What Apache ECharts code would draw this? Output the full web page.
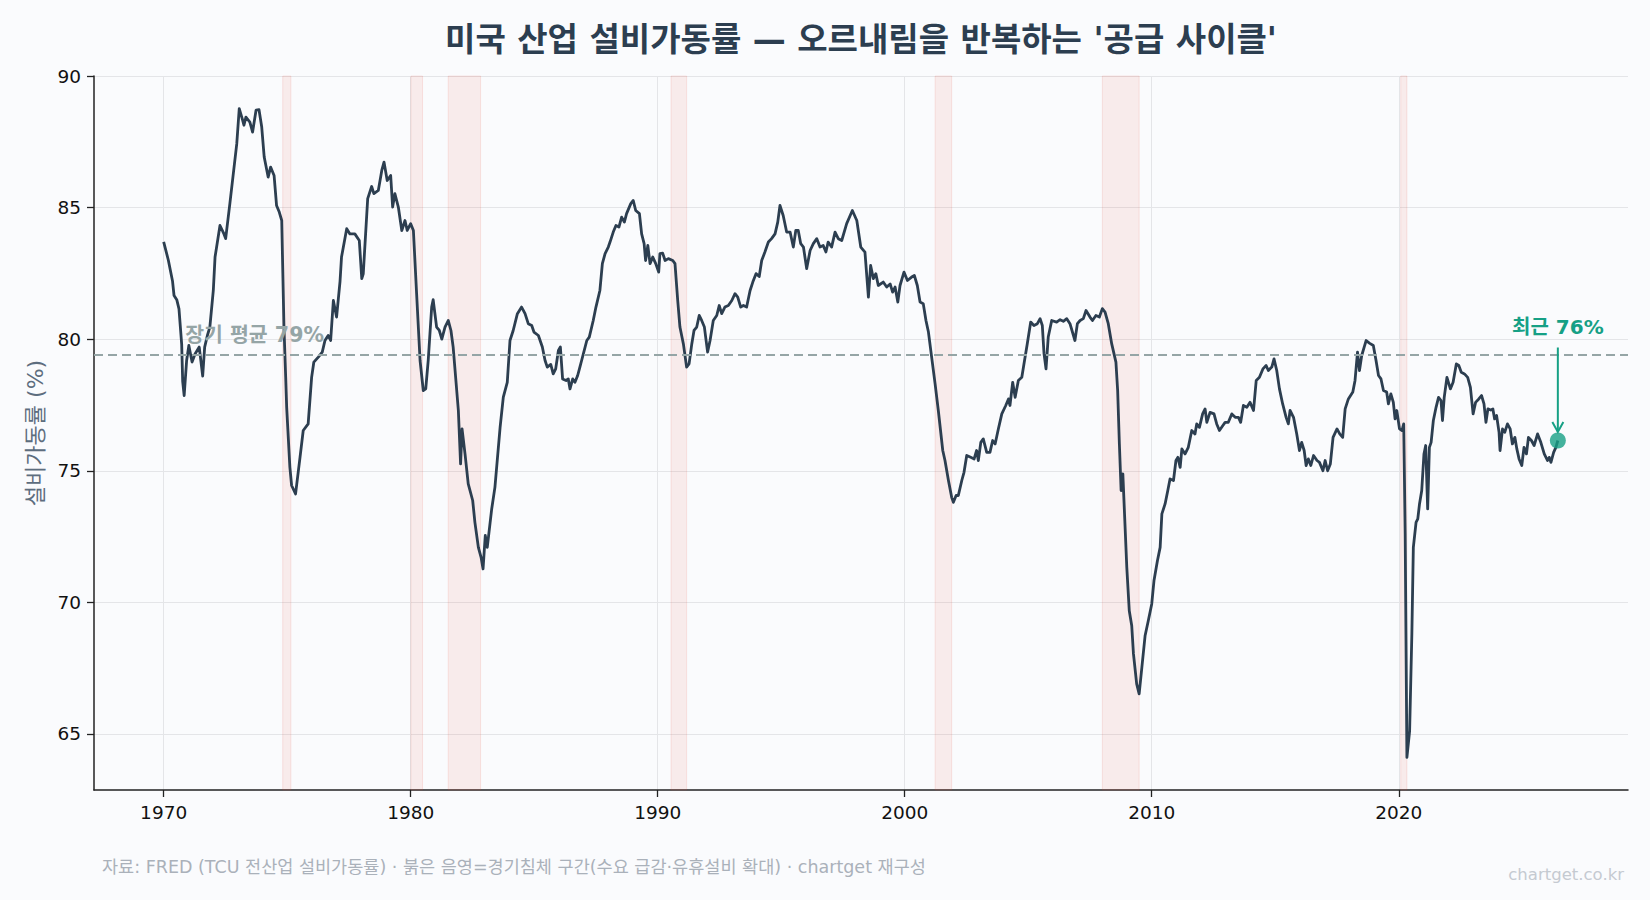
<!DOCTYPE html>
<html lang="ko">
<head>
<meta charset="utf-8">
<title>미국 산업 설비가동률</title>
<script src="https://cdn.jsdelivr.net/npm/echarts@6/dist/echarts.min.js"></script>
<style>
  html, body { margin: 0; padding: 0; background: #fafbfd; }
  #chart { width: 1650px; height: 900px; }
</style>
</head>
<body>
<div id="chart"></div>
<script>
// ---- data (decimal year, capacity utilization %) ----
const years = [
1970.00,1970.19,1970.36,1970.42,1970.53,1970.62,1970.73,1970.77,1970.83,1970.93,
1971.02,1971.15,1971.27,1971.44,1971.58,1971.66,1971.77,1971.87,1972.01,1972.08,
1972.28,1972.44,1972.51,1972.68,1972.96,1973.06,1973.18,1973.25,1973.33,1973.49,
1973.60,1973.74,1973.86,1973.97,1974.07,1974.23,1974.33,1974.47,1974.57,1974.68,
1974.78,1974.87,1974.94,1974.98,1975.11,1975.18,1975.34,1975.52,1975.65,1975.85,
1975.99,1976.08,1976.26,1976.42,1976.53,1976.66,1976.76,1976.87,1977.00,1977.14,
1977.20,1977.41,1977.54,1977.74,1977.92,1978.02,1978.08,1978.26,1978.42,1978.51,
1978.69,1978.83,1978.92,1979.05,1979.19,1979.27,1979.36,1979.50,1979.64,1979.77,
1979.86,1980.00,1980.11,1980.24,1980.38,1980.51,1980.61,1980.71,1980.85,1980.91,
1981.05,1981.16,1981.26,1981.39,1981.52,1981.63,1981.72,1981.93,1982.02,1982.08,
1982.20,1982.33,1982.51,1982.60,1982.74,1982.85,1982.93,1983.02,1983.10,1983.28,
1983.41,1983.62,1983.75,1983.91,1984.02,1984.15,1984.32,1984.49,1984.63,1984.76,
1984.90,1984.99,1985.17,1985.33,1985.44,1985.53,1985.67,1985.77,1985.87,1985.98,
1986.06,1986.15,1986.29,1986.38,1986.45,1986.56,1986.65,1986.76,1986.85,1986.92,
1986.99,1987.13,1987.23,1987.39,1987.50,1987.66,1987.76,1987.87,1988.00,1988.07,
1988.20,1988.31,1988.43,1988.54,1988.65,1988.74,1988.91,1989.01,1989.11,1989.26,
1989.35,1989.45,1989.51,1989.60,1989.69,1989.80,1989.92,1990.04,1990.09,1990.20,
1990.30,1990.43,1990.61,1990.70,1990.81,1990.90,1991.04,1991.17,1991.27,1991.38,
1991.47,1991.58,1991.68,1991.78,1991.89,1992.02,1992.12,1992.25,1992.39,1992.49,
1992.59,1992.72,1992.86,1993.00,1993.13,1993.24,1993.36,1993.47,1993.60,1993.74,
1993.85,1993.98,1994.11,1994.21,1994.34,1994.48,1994.61,1994.75,1994.86,1994.95,
1995.08,1995.22,1995.36,1995.49,1995.59,1995.69,1995.79,1995.90,1996.03,1996.17,
1996.30,1996.44,1996.57,1996.70,1996.81,1996.90,1997.04,1997.18,1997.31,1997.45,
1997.65,1997.88,1998.06,1998.22,1998.39,1998.53,1998.62,1998.73,1998.83,1998.93,
1999.13,1999.27,1999.41,1999.51,1999.61,1999.72,1999.81,1999.97,2000.11,2000.28,
2000.39,2000.51,2000.62,2000.75,2000.86,2000.96,2001.09,2001.23,2001.36,2001.54,
2001.63,2001.77,2001.90,2001.97,2002.08,2002.17,2002.31,2002.40,2002.51,2002.67,
2002.81,2002.91,2002.98,2003.08,2003.18,2003.32,2003.45,2003.56,2003.66,2003.79,
2003.93,2004.09,2004.20,2004.26,2004.37,2004.47,2004.60,2004.74,2004.85,2004.96,
2005.10,2005.23,2005.37,2005.48,2005.57,2005.64,2005.72,2005.81,2005.95,2006.15,
2006.29,2006.42,2006.56,2006.69,2006.89,2006.99,2007.10,2007.23,2007.34,2007.50,
2007.60,2007.74,2007.88,2008.00,2008.11,2008.24,2008.38,2008.55,2008.62,2008.69,
2008.76,2008.83,2008.99,2009.09,2009.19,2009.26,2009.39,2009.49,2009.60,2009.73,
2009.86,2010.00,2010.09,2010.23,2010.34,2010.41,2010.54,2010.65,2010.74,2010.88,
2010.98,2011.06,2011.15,2011.22,2011.35,2011.48,2011.62,2011.75,2011.82,2011.93,
2012.06,2012.16,2012.23,2012.36,2012.52,2012.63,2012.74,2012.88,2012.97,2013.10,
2013.24,2013.38,2013.51,2013.60,2013.71,2013.85,2013.98,2014.12,2014.23,2014.36,
2014.50,2014.63,2014.72,2014.86,2014.95,2015.06,2015.17,2015.30,2015.44,2015.53,
2015.60,2015.74,2015.87,2015.98,2016.07,2016.17,2016.25,2016.34,2016.44,2016.55,
2016.69,2016.79,2016.93,2017.02,2017.12,2017.23,2017.34,2017.50,2017.61,2017.73,
2017.83,2017.96,2018.14,2018.23,2018.33,2018.41,2018.50,2018.60,2018.68,2018.81,
2018.97,2019.08,2019.18,2019.28,2019.38,2019.51,2019.58,2019.68,2019.78,2019.85,
2019.92,2020.03,2020.13,2020.20,2020.26,2020.33,2020.44,2020.53,2020.59,2020.70,
2020.77,2020.84,2020.93,2021.02,2021.09,2021.17,2021.24,2021.31,2021.40,2021.51,
2021.61,2021.71,2021.77,2021.84,2021.95,2022.09,2022.20,2022.33,2022.43,2022.53,
2022.66,2022.79,2022.90,2023.01,2023.11,2023.24,2023.35,2023.45,2023.53,2023.61,
2023.72,2023.81,2023.88,2023.96,2024.06,2024.10,2024.20,2024.29,2024.40,2024.51,
2024.60,2024.70,2024.78,2024.87,2024.98,2025.07,2025.17,2025.25,2025.37,2025.48,
2025.62,2025.75,2025.89,2026.02,2026.09,2026.16,2026.27,2026.36,2026.44
];
const utilization = [
83.7,83.0,82.2,81.66,81.5,81.15,79.8,78.4,77.86,79.19,
79.76,79.13,79.44,79.7,78.6,79.7,80.14,80.46,81.85,83.12,
84.32,84.0,83.82,85.15,87.43,88.76,88.38,88.13,88.44,88.25,
87.87,88.7,88.72,88.06,86.92,86.16,86.54,86.22,85.08,84.83,
84.51,80.46,78.56,77.41,75.13,74.44,74.12,75.51,76.53,76.78,
78.55,79.13,79.32,79.51,79.95,80.14,79.95,81.47,80.84,82.2,
83.12,84.2,84.0,84.0,83.75,82.3,82.48,85.34,85.8,85.53,
85.65,86.41,86.73,86.03,86.22,85.02,85.53,85.02,84.13,84.51,
84.13,84.39,84.13,81.73,79.19,78.05,78.11,79.19,81.22,81.5,
80.46,80.33,80.0,80.46,80.71,80.33,79.7,77.29,75.26,76.59,
75.64,74.5,73.87,73.04,72.09,71.71,71.27,72.54,72.09,73.55,
74.37,76.65,77.8,78.36,79.95,80.33,80.97,81.22,80.97,80.59,
80.52,80.27,80.14,79.7,79.19,78.94,79.04,78.68,78.87,79.57,
79.7,78.49,78.43,78.49,78.11,78.49,78.36,78.62,78.94,79.19,
79.44,79.95,80.08,80.71,81.22,81.85,82.87,83.25,83.5,83.69,
84.07,84.32,84.26,84.64,84.45,84.77,85.15,85.27,84.89,84.77,
84.0,83.63,82.99,83.56,82.87,83.12,82.87,82.55,83.25,83.27,
82.99,83.06,82.99,82.87,81.47,80.46,79.82,78.94,79.06,79.82,
80.33,80.46,80.9,80.71,80.46,79.51,79.95,80.71,80.9,81.28,
80.97,81.22,81.28,81.47,81.73,81.6,81.22,81.28,81.22,81.85,
82.17,82.49,82.38,82.99,83.31,83.69,83.82,84.0,84.45,85.08,
84.7,84.07,84.07,83.5,84.13,84.13,83.63,83.5,82.68,83.37,
83.63,83.82,83.5,83.56,83.31,83.69,83.5,84.07,83.82,83.75,
84.39,84.89,84.51,83.5,83.31,81.6,82.8,82.3,82.49,82.04,
82.17,81.98,82.1,81.79,81.98,81.41,82.04,82.55,82.23,82.36,
82.42,82.04,81.41,81.35,80.71,80.27,79.32,78.3,77.29,75.77,
75.39,74.63,73.99,73.8,74.06,74.06,74.63,74.94,75.58,75.51,
75.45,75.77,75.39,76.08,76.21,75.7,75.7,76.15,76.02,76.59,
77.16,77.48,77.73,77.48,78.36,77.79,78.43,78.55,79.19,79.82,
80.65,80.52,80.59,80.78,80.52,79.44,78.87,80.08,80.71,80.65,
80.74,80.68,80.78,80.59,79.95,80.59,80.71,80.78,81.09,80.84,
80.71,80.9,80.84,81.16,81.03,80.59,79.82,79.13,78.05,76.02,
74.25,74.88,71.33,69.68,69.11,68.04,66.9,66.52,67.53,68.73,
69.3,69.94,70.82,71.58,72.09,73.36,73.74,74.25,74.69,74.63,
75.39,75.51,75.13,75.83,75.64,75.89,76.53,76.4,76.78,76.65,
77.16,77.35,76.84,77.22,77.16,76.78,76.53,76.72,76.84,76.84,
77.16,77.03,77.03,76.84,77.48,77.41,77.6,77.29,78.43,78.55,
78.87,79.0,78.81,78.94,79.25,78.81,78.11,77.54,77.03,76.78,
77.29,77.03,76.4,75.77,76.08,75.77,75.2,75.45,75.2,75.58,
75.39,75.32,75.0,75.39,75.0,75.26,76.27,76.59,76.4,76.27,
77.35,77.73,77.99,78.43,79.51,78.81,79.38,79.7,79.95,79.85,
79.76,79.19,78.62,78.49,78.05,77.99,77.54,77.92,77.6,76.97,
77.29,76.59,76.53,76.78,72.6,64.11,65.12,68.8,72.09,73.04,
73.17,73.74,74.25,75.64,75.96,73.55,75.89,76.08,76.91,77.41,
77.79,77.67,76.91,77.79,78.55,78.11,78.36,79.06,79.0,78.74,
78.68,78.55,78.17,77.16,77.6,77.73,77.86,77.54,76.84,77.35,
77.31,77.35,76.97,77.1,76.46,75.77,76.59,76.46,76.78,76.59,
76.02,76.27,75.83,75.45,75.2,75.89,75.64,76.27,76.15,75.96,
76.4,76.08,75.64,75.39,75.51,75.32,75.7,75.89,76.15
];
// recession periods (decimal years)
const recessionStart = [1974.82, 1980.01, 1981.52, 1990.54, 2001.23, 2008.00, 2020.08];
const recessionEnd   = [1975.15, 1980.48, 1982.83, 1991.17, 2001.90, 2009.49, 2020.33];
const longRunAverage = 79.4;
const xTicks = [1970, 1980, 1990, 2000, 2010, 2020];
const yTicks = [65, 70, 75, 80, 85, 90];

// ---- chart ----
const FONT = "'DejaVu Sans', 'Noto Sans CJK KR', sans-serif";
const INK = '#2c3e50';
const TEAL = '#16a085';
const AVG_GREY = '#95a5a6';

const chart = echarts.init(document.getElementById('chart'), null, { renderer: 'svg' });
const lineData = years.map((y, i) => [y, utilization[i]]);
const lastX = years[years.length - 1];
const lastY = utilization[utilization.length - 1];

const option = {
  backgroundColor: '#fafbfd',
  animation: false,
  textStyle: { fontFamily: FONT },
  grid: { left: 94, right: 22, top: 76, bottom: 110 },
  xAxis: {
    type: 'value',
    min: 1967.18,
    max: 2029.28,
    axisLine: { show: true, lineStyle: { color: '#222', width: 1.5 } },
    axisTick: { show: true, length: 7, lineStyle: { color: '#222', width: 1.3 }, customValues: xTicks },
    axisLabel: { color: '#111', fontSize: 18.5, margin: 13, fontFamily: FONT, customValues: xTicks, formatter: v => String(v) },
    splitLine: { show: true, lineStyle: { color: '#e4e5e8', width: 1 } }
  },
  yAxis: {
    type: 'value',
    min: 62.87,
    max: 90,
    name: '설비가동률 (%)',
    nameLocation: 'middle',
    nameGap: 46,
    nameTextStyle: { color: '#5d6d7e', fontSize: 22, fontFamily: FONT },
    axisLine: { show: true, lineStyle: { color: '#222', width: 1.5 } },
    axisTick: { show: true, length: 7, lineStyle: { color: '#222', width: 1.3 }, customValues: yTicks },
    axisLabel: { color: '#111', fontSize: 18.5, margin: 13, fontFamily: FONT, customValues: yTicks },
    splitLine: { show: true, lineStyle: { color: '#e4e5e8', width: 1 } }
  },
  series: [
    {
      name: 'bands',
      type: 'line',
      data: [],
      z: 1,
      silent: true,
      markArea: {
        silent: true,
        itemStyle: { color: 'rgba(231,76,60,0.09)', borderColor: 'rgba(231,76,60,0.13)', borderWidth: 1 },
        data: recessionStart.map((s, i) => [{ xAxis: s }, { xAxis: recessionEnd[i] }])
      },
      markLine: {
        silent: true,
        symbol: 'none',
        label: { show: false },
        lineStyle: { color: AVG_GREY, width: 2, type: [9, 5] },
        data: [{ yAxis: longRunAverage }]
      }
    },
    {
      name: '설비가동률',
      type: 'line',
      data: lineData,
      z: 3,
      showSymbol: false,
      symbol: 'none',
      lineStyle: { color: INK, width: 2.8, join: 'round' },
      itemStyle: { color: INK }
    },
    {
      name: 'latest',
      type: 'scatter',
      data: [[lastX, lastY]],
      z: 5,
      symbolSize: 16,
      itemStyle: { color: TEAL }
    }
  ]
};
chart.setOption(option);

// annotations positioned from data through the chart's own scales
const [px, py] = chart.convertToPixel({ gridIndex: 0 }, [lastX, lastY]);
const [, avgPy] = chart.convertToPixel({ gridIndex: 0 }, [years[0], longRunAverage]);
const [avgPx] = chart.convertToPixel({ gridIndex: 0 }, [years[0] + 0.87, longRunAverage]);
const tipY = py - 8.5;

chart.setOption({
  graphic: [
    {
      type: 'text', x: 861, y: 39, z: 10,
      style: { text: "미국 산업 설비가동률 — 오르내림을 반복하는 '공급 사이클'", fill: INK,
               font: "bold 33px " + FONT, textAlign: 'center', textVerticalAlign: 'middle' }
    },
    {
      type: 'text', x: avgPx, y: avgPy - 20, z: 10,
      style: { text: '장기 평균 ' + Math.round(longRunAverage) + '%', fill: AVG_GREY,
               font: "bold 20.5px " + FONT, textAlign: 'left', textVerticalAlign: 'middle' }
    },
    {
      type: 'line', z: 10,
      shape: { x1: px, y1: py - 93, x2: px, y2: tipY },
      style: { stroke: TEAL, lineWidth: 2 }
    },
    {
      type: 'polyline', z: 10,
      shape: { points: [[px - 5.5, tipY - 10], [px, tipY], [px + 5.5, tipY - 10]] },
      style: { stroke: TEAL, lineWidth: 2, fill: null }
    },
    {
      type: 'text', x: px, y: py - 114, z: 10,
      style: { text: '최근 ' + Math.round(lastY) + '%', fill: TEAL,
               font: "bold 20px " + FONT, textAlign: 'center', textVerticalAlign: 'middle' }
    },
    {
      type: 'text', x: 102, y: 867, z: 10,
      style: { text: '자료: FRED (TCU 전산업 설비가동률) · 붉은 음영=경기침체 구간(수요 급감·유휴설비 확대) · chartget 재구성',
               fill: '#aab1ba', font: "17.5px " + FONT, textAlign: 'left', textVerticalAlign: 'middle' }
    },
    {
      type: 'text', x: 1624, y: 874, z: 10,
      style: { text: 'chartget.co.kr', fill: '#c5cad1', font: "16.5px " + FONT,
               textAlign: 'right', textVerticalAlign: 'middle' }
    }
  ]
});
</script>
</body>
</html>
